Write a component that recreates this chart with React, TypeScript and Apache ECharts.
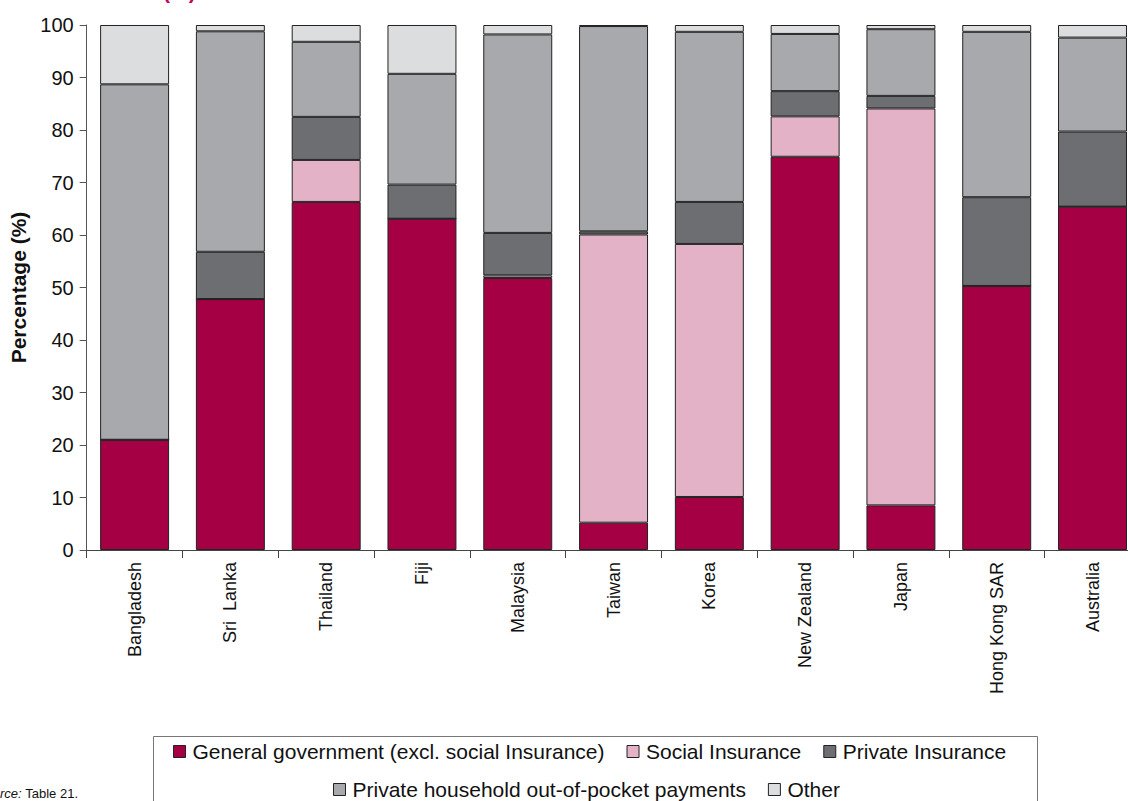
import React, { useEffect, useRef } from "react";
import * as echarts from "echarts";

const categories = ["Bangladesh", "Sri  Lanka", "Thailand", "Fiji", "Malaysia", "Taiwan", "Korea", "New Zealand", "Japan", "Hong Kong SAR", "Australia"];
const seriesNames = [
  "General government (excl. social Insurance)",
  "Social Insurance",
  "Private Insurance",
  "Private household out-of-pocket payments",
  "Other",
];
const generalGov = [21.0, 47.8, 66.3, 63.1, 51.8, 5.2, 10.1, 74.9, 8.5, 50.3, 65.4];
const socialIns = [0, 0, 8.0, 0, 0.5, 54.9, 48.2, 7.7, 75.6, 0, 0];
const privateIns = [0, 9.0, 8.2, 6.5, 8.1, 0.6, 8.0, 4.8, 2.4, 16.9, 14.3];
const outOfPocket = [67.7, 42.0, 14.3, 21.1, 37.8, 39.1, 32.4, 10.9, 12.7, 31.5, 17.9];
const other = [11.3, 1.2, 3.2, 9.3, 1.8, 0.2, 1.3, 1.7, 0.8, 1.3, 2.4];
const colors = ["#A50044", "#E3B2C6", "#6D6E72", "#A8A9AD", "#DCDDDF"];

const FONT = "'Liberation Sans', Arial, Helvetica, sans-serif";

export default function App() {
  const ref = useRef<HTMLDivElement>(null);
  useEffect(() => {
    if (!ref.current) return;
    const chart = echarts.init(ref.current, null, { renderer: "svg" });
    const allData = [generalGov, socialIns, privateIns, outOfPocket, other];
    const series = allData.map((d, i) => ({
      name: seriesNames[i],
      type: "bar",
      stack: "total",
      barCategoryGap: "28%",
      data: d,
      itemStyle: { color: colors[i], borderColor: "#222", borderWidth: 1 },
      emphasis: { disabled: true },
    }));
    const legendCommon = {
      orient: "horizontal",
      padding: 0,
      itemWidth: 12,
      itemHeight: 12,
      itemGap: 22,
      icon: "rect",
      textStyle: { fontFamily: FONT, fontSize: 21, color: "#111", padding: [0, 0, 0, 2] },
      itemStyle: { borderColor: "#222", borderWidth: 1 },
      selectedMode: false,
    };
    chart.setOption({
      animation: false,
      textStyle: { fontFamily: FONT },
      grid: { left: 86.7, right: 19.6, top: 25, bottom: 251, containLabel: false },
      legend: [
        { ...legendCommon, data: seriesNames.slice(0, 3), left: 173, top: 741 },
        { ...legendCommon, data: seriesNames.slice(3), left: 333, top: 779 },
      ],
      xAxis: {
        type: "category",
        data: categories,
        axisLine: { lineStyle: { color: "#444", width: 1 } },
        axisTick: { show: true, length: 8, lineStyle: { color: "#444" } },
        axisLabel: { rotate: 90, fontSize: 18, color: "#111", margin: 12, fontFamily: FONT, interval: 0 },
      },
      yAxis: {
        type: "value",
        min: 0,
        max: 100,
        interval: 10,
        name: "Percentage (%)",
        nameLocation: "middle",
        nameGap: 51,
        nameRotate: 90,
        nameTextStyle: { fontSize: 21, fontWeight: "bold", color: "#111", fontFamily: FONT },
        axisLine: { show: true, lineStyle: { color: "#555", width: 1 } },
        axisTick: { show: true, length: 7, lineStyle: { color: "#555" } },
        axisLabel: { fontSize: 20, color: "#111", margin: 13, fontFamily: FONT },
        splitLine: { show: false },
      },
      series,
      graphic: [
        {
          type: "rect",
          shape: { x: 153.5, y: 736.5, width: 884, height: 90 },
          style: { fill: "none", stroke: "#777", lineWidth: 1 },
          silent: true,
        },
        {
          type: "text",
          x: 163,
          y: -19,
          style: { text: "(%)", fontSize: 21, fontWeight: "bold", fill: "#C4005A", fontFamily: FONT, verticalAlign: "top" },
        },
        {
          type: "text",
          x: 78,
          y: 793,
          style: {
            text: "{i|Source:} Table 21.",
            align: "right",
            verticalAlign: "middle",
            fontSize: 13,
            fill: "#111",
            fontFamily: FONT,
            rich: { i: { fontStyle: "italic", fontSize: 13, fontFamily: FONT, fill: "#111" } },
          },
        },
      ],
    });
    return () => chart.dispose();
  }, []);
  return (
    <div style={{ position: "absolute", left: 0, top: 0, width: 1128, height: 801, overflow: "hidden", background: "#fff" }}>
      <div ref={ref} style={{ width: 1160, height: 801 }} />
    </div>
  );
}
